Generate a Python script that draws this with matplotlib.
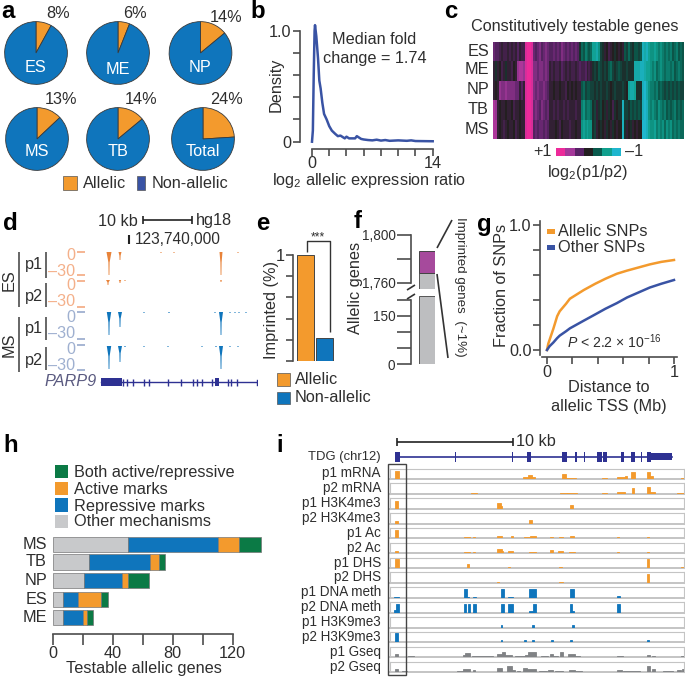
import matplotlib
matplotlib.use('Agg')
import matplotlib.pyplot as plt
from matplotlib.colors import LinearSegmentedColormap
from matplotlib.patches import Rectangle

plt.rcParams['font.family'] = ['Liberation Sans', 'DejaVu Sans']
plt.rcParams['mathtext.fontset'] = 'custom'
plt.rcParams['mathtext.rm'] = 'Liberation Sans'
plt.rcParams['mathtext.it'] = 'Liberation Sans:italic'
plt.rcParams['mathtext.default'] = 'regular'

W, H = 685, 677
TXT = '#2e2e2e'
AX = '#4d4d4d'
ORANGE = '#F39A2D'
BLUE = '#0F75BC'
NAVY = '#3953A4'
GENE = '#2E3192'
GREY = '#BDBEC0'

# panel a
pie_names = ['ES', 'ME', 'NP', 'MS', 'TB', 'Total']
pie_allelic = [8, 6, 14, 13, 14, 24]

# panel b
dens_x = [0, 0.1, 0.2, 0.3, 0.35, 0.5, 0.7, 0.85, 1, 1.2, 1.4, 1.7, 2, 2.3, 2.7, 3, 3.3, 3.6, 3.8, 4,
          4.3, 4.7, 5, 5.2, 5.4, 5.7, 6, 6.5, 7, 7.5, 8, 8.5, 9, 9.5, 10, 11, 11.5, 12, 13, 14]
dens_y = [0, 0.1, 0.6, 1.0, 1.05, 0.95, 0.75, 0.55, 0.48, 0.35, 0.25, 0.2, 0.14, 0.1, 0.07, 0.05, 0.055, 0.04, 0.03, 0.045,
          0.03, 0.03, 0.03, 0.05, 0.04, 0.025, 0.02, 0.015, 0.012, 0.018, 0.01, 0.015, 0.008, 0.01, 0.012, 0.008, 0.012, 0.006, 0.005, 0.004]

# panel c, tenths of log2(p1/p2)
heat_rows = ['ES', 'ME', 'NP', 'TB', 'MS']
heat_es = [4, 3, 3, 2, 1, 2, 2, 1, 2, 1, 2, 1, 3, 1, 2, 2, 9, 10, 10, 9, 4, 3, 4, 5,
           3, 4, 5, 4, 3, 3, 4, 3, 4, 3, 5, 4, 3, 4, 3, 4, 3, 4, 3, -1, -4, -3, -5, -4,
           -3, -4, -7, -7, -8, -6, -2, -1, 1, 0, 2, 1, 0, -1, 0, 1, 0, 1, -3, -2, -4, -2, -1, -3,
           -3, -2, -3, -9, -8, -9, -7, -6, -6, -7, -6, -5, -6, -5, -4, -5, -4, -5, -3, -4, -5, -3, -4, -3]
heat_me = [1, -1, 1, 0, 2, 1, -1, 1, 1, 2, 0, 1, 6, 7, 7, 6, 9, 10, 10, 9, 5, 5, 4, 5,
           5, 4, 5, 4, 1, 2, 1, 2, 2, 1, 3, 2, 1, 2, 1, 2, 2, 1, 2, 3, 2, 2, 3, 1,
           2, 1, -1, -2, -1, -3, -2, -1, -2, -1, -3, -4, -2, -1, -2, -3, -2, -1, -1, -2, -1, -1, -1, -8,
           -8, -8, -9, -9, -8, -7, -7, -6, -5, -6, -4, -5, -6, -5, -4, -5, -5, -4, -5, -3, -4, -5, -4, -3]
heat_np = [1, 0, 1, 6, 5, 5, 6, 5, 5, 5, 5, 4, 4, 1, 3, 1, 9, 10, 10, 9, 5, 4, 5, 4,
           4, 5, 4, 3, 1, 1, 0, 1, 1, 0, 1, 1, 2, 0, 1, 0, 1, 0, 1, 1, -3, -4, -2, -3,
           -3, -2, -2, -1, -2, -1, -2, -1, -1, -2, -1, 0, -1, -2, -1, -1, -1, -2, -1, 0, -7, -8, -8, -7,
           -1, -1, -1, -9, -10, -8, -6, -5, -5, -4, -5, -3, -4, -3, -2, -3, -2, -3, -2, -3, -2, -3, -2, -2]
heat_tb = [7, 6, 1, 0, 1, 1, 0, 1, 1, 0, 2, 1, 1, 0, 1, 1, 9, 10, 10, 9, 4, 5, 4, 3,
           5, 4, 3, 4, 1, 1, 2, 1, 2, 1, 1, 2, 1, 2, 1, 1, 1, 2, 1, 1, -5, -6, -4, -5,
           -5, -4, -1, -2, 1, -1, -2, 0, -1, 1, -1, 0, 2, -1, 0, -1, -1, -9, -2, -2, -1, -3, -2, -3,
           -2, -3, -2, -9, -10, -9, -6, -5, -6, -5, -4, -6, -5, -4, -5, -3, -4, -3, -4, -5, -3, -4, -3, -4]
heat_ms = [7, 7, 1, 0, 1, 2, 1, 0, 1, 1, 0, 2, 1, 0, 1, 1, 9, 10, 10, 9, 3, 4, 3, 4,
           4, 3, 4, 3, 1, 1, 1, 0, 1, 2, 0, 1, 1, 1, 2, 1, 1, 0, 1, 1, -6, -7, -6, -7,
           -6, -6, -1, -2, 1, 0, -1, 0, 1, -1, 0, 1, -1, 0, 1, 0, 0, -9, -1, 1, 0, -1, 1, 0,
           1, 0, 0, -10, -10, -9, -7, -6, -6, -7, -5, -6, -5, -6, -4, -6, -5, -6, -4, -5, -4, -5, -4, -4]
cbar_vals = [10, 6.6, 3.3, 0, -3.3, -6.6, -10]

# panel d, positions along the locus
es_p1 = [(109, 2.5, 23), (120, 1.5, 8), (221, 1.5, 23), (161, .5, 1), (174, .5, 1), (238, .5, 1)]
es_p2 = [(108, 2, 5), (120, 1.2, 3), (125, .6, 1), (221, .8, 2)]
ms_p1 = [(109, 2.2, 23), (120, 2, 15), (221, 2, 23), (144, .5, 1), (169, .8, 1), (215, .5, 1),
         (230, .5, 1), (235, .5, 1), (239, .5, 1), (246, .5, 1)]
ms_p2 = [(109, 2.2, 23), (120, 2, 16), (125, .8, 1), (144, .5, 1), (168, .5, 1), (202, .5, 1),
         (216, .8, 1), (221, 2, 23), (230, .5, 1), (238, .5, 1)]
parp9_thick = [(101, 122), (214.5, 219)]
parp9_ticks = [123.5, 127, 133, 144, 148.5, 167.5, 180.5, 192.5, 196.5, 201.5, 211.5, 227.5, 230.5, 236.5]

# panel e
imprinted_names = ['Allelic', 'Non-allelic']
imprinted_vals = [1.0, 0.22]

# panel f
f_other_low = 212
f_other_high = 1768
f_imprinted = 1786.5

# panel g
g_x = [0, 0.01, 0.02, 0.05, 0.08, 0.1, 0.15, 0.18, 0.29, 0.38, 0.46, 0.55, 0.63, 0.72, 0.81, 0.9, 1]
g_allelic = [0, 0.05, 0.08, 0.17, 0.27, 0.31, 0.37, 0.41, 0.48, 0.53, 0.57, 0.61, 0.635, 0.66, 0.685, 0.705, 0.72]
g_other = [0, 0.015, 0.03, 0.06, 0.095, 0.115, 0.15, 0.173, 0.235, 0.285, 0.33, 0.375, 0.42, 0.46, 0.50, 0.53, 0.56]

# panel h
h_names = ['MS', 'TB', 'NP', 'ES', 'ME']
h_other = [50, 24, 21, 7, 7]
h_repressive = [60, 41, 25, 10, 13]
h_active = [14, 6, 4, 15, 3]
h_both = [15, 4, 14, 5, 4]
h_labels = ['Both active/repressive', 'Active marks', 'Repressive marks', 'Other mechanisms']

# panel i, (start, end, height) along the locus
tdg_exons = [(376, 390), (556, 558), (726, 728), (771, 783), (876, 890), (915, 922), (942, 944), (982, 996),
             (1000, 1012), (1053, 1063), (1083, 1095), (1113, 1115), (1131, 1143)]
tdg_utr = (1143, 1205)
p1_mrna = [(376, 388, .75), (760, 775, .15), (775, 785, .4), (785, 795, .2), (876, 888, .5), (888, 918, .1),
           (997, 1010, .08), (1040, 1065, .2), (1065, 1070, .3), (1084, 1094, .7), (1130, 1140, .65),
           (1140, 1150, .25), (1232, 1242, .08)]
p2_mrna = [(602, 622, .07), (870, 890, .07), (890, 922, .1), (997, 1010, .08), (1040, 1065, .2), (1085, 1093, .6),
           (1130, 1140, .65), (1140, 1155, .2), (1220, 1242, .08)]
p1_k4 = [(376, 385, .75), (682, 692, .55), (692, 697, .3), (900, 908, .35)]
p2_k4 = [(376, 384, .2), (777, 785, .3)]
p1_ac = [(376, 384, .8), (583, 600, .1), (608, 616, .1), (682, 697, .25), (722, 728, .25), (762, 780, .1),
         (780, 798, .2), (840, 848, .1), (868, 878, .15), (900, 912, .2), (1042, 1048, .15), (1131, 1137, .15),
         (1232, 1242, .07)]
p2_ac = [(376, 384, .25), (583, 600, .1), (608, 616, .1), (682, 695, .4), (695, 700, .2), (715, 728, .2),
         (778, 798, .12), (840, 848, .35), (865, 878, .25), (898, 914, .1), (1042, 1048, .15), (1131, 1137, .15)]
p1_dhs = [(376, 386, .85), (590, 598, .4), (714, 720, .1), (868, 875, .1), (1130, 1137, .85), (1232, 1240, .1)]
p2_dhs = [(682, 688, .12), (868, 878, .12), (1130, 1137, .85)]
p1_meth = [(373, 386, .1), (582, 590, .85), (590, 597, .1), (608, 617, .1), (692, 702, .85), (714, 728, .1),
           (778, 798, .85), (900, 912, .85), (1042, 1050, .15)]
p2_meth = [(373, 378, .3), (378, 386, .85), (582, 588, .85), (595, 600, .85), (608, 617, .85), (692, 702, .85),
           (714, 728, .85), (778, 790, .2), (790, 798, .85), (900, 905, .85), (905, 911, .15), (1042, 1050, .85)]
p1_k9 = [(692, 697, .2), (787, 793, .2), (905, 911, .2)]
p2_k9 = [(376, 384, .85), (692, 697, .2), (762, 768, .2), (787, 793, .2), (842, 848, .2), (900, 906, .2),
         (1132, 1138, .2)]
p1_gseq = [(376, 385, .35), (415, 433, .1), (510, 520, .06), (530, 570, .06), (580, 585, .25), (585, 600, .4),
           (605, 670, .1), (680, 696, .35), (696, 705, .5), (705, 725, .2), (735, 765, .1), (765, 775, .2),
           (775, 798, .5), (812, 835, .1), (840, 850, .3), (850, 865, .08), (870, 878, .45), (895, 915, .3),
           (915, 930, .08), (940, 985, .05), (1010, 1040, .05), (1040, 1060, .08), (1080, 1100, .05),
           (1130, 1140, .25), (1145, 1155, .1), (1180, 1205, .05), (1232, 1242, .1)]
p2_gseq = [(376, 385, .3), (395, 410, .08), (417, 423, .05), (440, 445, .05), (458, 462, .05), (520, 555, .05),
           (560, 578, .08), (580, 600, .3), (608, 615, .2), (630, 675, .05), (680, 697, .4), (712, 725, .6),
           (725, 735, .2), (740, 750, .1), (760, 770, .4), (770, 798, .25), (808, 830, .06), (835, 850, .2),
           (855, 878, .12), (898, 915, .2), (915, 935, .08), (940, 985, .04), (1040, 1055, .2), (1060, 1110, .06),
           (1130, 1140, .55), (1145, 1155, .3), (1180, 1210, .06), (1220, 1232, .2), (1235, 1242, .25)]
track_names = ['p1 mRNA', 'p2 mRNA', 'p1 H3K4me3', 'p2 H3K4me3', 'p1 Ac', 'p2 Ac', 'p1 DHS', 'p2 DHS',
               'p1 DNA meth', 'p2 DNA meth', 'p1 H3K9me3', 'p2 H3K9me3', 'p1 Gseq', 'p2 Gseq']
track_data = [p1_mrna, p2_mrna, p1_k4, p2_k4, p1_ac, p2_ac, p1_dhs, p2_dhs,
              p1_meth, p2_meth, p1_k9, p2_k9, p1_gseq, p2_gseq]
track_cols = [ORANGE] * 8 + [BLUE] * 4 + ['#808285'] * 2

fig = plt.figure(figsize=(W / 100, H / 100), dpi=100, facecolor='white')


def px_axes(x0, y0, x1, y1):
    return fig.add_axes([x0 / W, 1 - y1 / H, (x1 - x0) / W, (y1 - y0) / H])


# everything in pixel coordinates goes on this one
top = fig.add_axes([0, 0, 1, 1], zorder=20)
top.set_xlim(0, W)
top.set_ylim(H, 0)
top.axis('off')
top.patch.set_alpha(0)


def txt(x, y, s, px=16.2, ha='center', color=TXT, **kw):
    top.text(x, y, s, fontsize=px * 0.72, ha=ha, va='center', color=color, **kw)


def seg(xs, ys, color=AX, lw=1.2):
    top.plot(xs, ys, color=color, lw=lw, solid_capstyle='butt')


def box(x0, y0, x1, y1, color, ec='none', lw=0.5):
    top.add_patch(Rectangle((x0, y0), x1 - x0, y1 - y0, fc=color, ec=ec, lw=lw))


def style(ax, keep=('left', 'bottom')):
    for s in ax.spines:
        ax.spines[s].set_visible(s in keep)
        ax.spines[s].set_color(AX)
        ax.spines[s].set_linewidth(1.2)
    ax.patch.set_alpha(0)
    ax.tick_params(color=AX, width=1.2, length=5, labelsize=16.2 * 0.72, labelcolor=TXT, pad=1)


for lab, x, y in [('a', 8, 12), ('b', 258, 11), ('c', 451, 12), ('d', 10, 224), ('e', 263, 223), ('f', 358, 222),
                  ('g', 484, 224), ('h', 11, 445), ('i', 280, 445)]:
    txt(x, y, lab, px=24, color='black', weight='bold')

# a
pie_cx = [36, 118, 200.5, 37, 118, 203]
pie_cy = [53, 53, 53, 139, 139, 139]
pie_lab_y = [68, 69, 68, 151, 151, 151]
pct_x = [58, 135, 226, 61, 141, 227]
pct_y = [14, 14, 17, 100, 100, 100]
for i, name in enumerate(pie_names):
    r = 32
    ax = px_axes(pie_cx[i] - r, pie_cy[i] - r, pie_cx[i] + r, pie_cy[i] + r)
    ax.pie([pie_allelic[i], 100 - pie_allelic[i]], colors=[ORANGE, BLUE], startangle=90, counterclock=False,
           radius=1, wedgeprops={'edgecolor': '#3a3a3a', 'linewidth': 0.6})
    ax.set_xlim(-1.02, 1.02)
    ax.set_ylim(-1.02, 1.02)
    txt(pie_cx[i], pie_lab_y[i], name, color='white')
    txt(pct_x[i], pct_y[i], '%d%%' % pie_allelic[i])
box(63.5, 176, 77, 190, ORANGE, ec='#555555')
txt(83, 183, 'Allelic', ha='left')
box(137, 176, 145, 190, NAVY, ec='#555555')
txt(152, 183, 'Non-allelic', ha='left')

# b
ax = px_axes(312, 30.7, 432.7, 141.7)
style(ax)
ax.plot(dens_x, dens_y, color=NAVY, lw=1.8, clip_on=False)
ax.set_xlim(0, 14)
ax.set_ylim(0, 1)
ax.spines['left'].set_position(('outward', 9))
ax.spines['bottom'].set_position(('outward', 5))
ax.set_xticks(range(0, 15, 2))
ax.set_xticklabels(['0', '', '', '', '', '', '', '14'])
ax.set_yticks([0, .2, .4, .6, .8, 1])
ax.set_yticklabels(['0', '', '', '', '', '1.0'])
ax.tick_params(axis='x', pad=0)
txt(276, 85, 'Density', rotation=90)
txt(374, 39, 'Median fold')
txt(375, 59, 'change = 1.74')
txt(369, 180, 'log$_2$ allelic expression ratio')

# c
heat_cmap = LinearSegmentedColormap.from_list('p1p2', [(0, '#1FB6CE'), (.17, '#10A08E'), (.33, '#0A5C4E'),
                                                       (.5, '#231F20'), (.67, '#5A2468'), (.83, '#A5389A'),
                                                       (1, '#ED2A9A')])
ax = px_axes(493, 42, 684, 139)
ax.imshow([heat_es, heat_me, heat_np, heat_tb, heat_ms], cmap=heat_cmap, vmin=-10, vmax=10, aspect='auto',
          interpolation='nearest')
ax.axis('off')
for name, y in zip(heat_rows, [51, 70, 89, 110, 129]):
    txt(489, y, name, ha='right')
txt(575, 27, 'Constitutively testable genes')
ax = px_axes(556, 148, 621, 156)
ax.imshow([cbar_vals], cmap=heat_cmap, vmin=-10, vmax=10, aspect='auto', interpolation='nearest')
ax.axis('off')
txt(552, 152, '+1', ha='right')
txt(625, 152, '\u20131', ha='left')
txt(588, 172, 'log$_2$(p1/p2)')

# d
txt(138, 221, '10 kb', ha='right')
seg([143, 192], [220, 220], color='#222222')
seg([143, 143], [216, 224], color='#222222')
seg([192, 192], [216, 224], color='#222222')
txt(196, 221, 'hg18', ha='left')
seg([129, 129], [235, 244], color='#222222', lw=1.5)
txt(135, 240, '123,740,000', px=15.5, ha='left')
seg([19, 19], [252, 307])
seg([19, 19], [317, 372])
txt(9, 280, 'ES', rotation=90)
txt(9, 345, 'MS', rotation=90)
for y in [264, 296, 328, 360]:
    txt(34, y, 'p1' if y in (264, 328) else 'p2')
for y0, y1 in [(252, 278), (283, 307), (317, 340), (347, 370)]:
    seg([46, 46], [y0, y1])
SALMON = '#F4B08A'
PALE = '#9FB0D0'
for y, s, c in [(256, '0', SALMON), (271, '\u201330', SALMON), (286, '0', SALMON), (301, '\u201330', SALMON),
                (317, '0', PALE), (333, '\u201330', PALE), (350, '0', PALE), (365, '\u201330', PALE)]:
    txt(75, y, s, ha='right', color=c)
for y, c in [(252, SALMON), (275, SALMON), (281, SALMON), (307, SALMON), (312, PALE), (339, PALE), (345, PALE), (370, PALE)]:
    seg([77, 85], [y, y], color=c, lw=1.3)
for peaks, y0, c in [(es_p1, 252, '#E8833A'), (es_p2, 280, '#E8833A'), (ms_p1, 312, BLUE), (ms_p2, 346, BLUE)]:
    ax = px_axes(100, y0, 250, y0 + 24)
    ax.axis('off')
    ax.set_xlim(100, 250)
    ax.set_ylim(24, 0)
    for pos, wid, dep in peaks:
        ax.fill([pos - wid, pos + wid, pos + .6, pos + .4, pos - .4, pos - .6],
                [0, 0, dep * .45, dep, dep, dep * .45], color=c, lw=0)
ax = px_axes(100, 374, 258, 390)
ax.axis('off')
ax.set_xlim(100, 258)
ax.set_ylim(-8, 8)
ax.plot([101, 257], [0, 0], color=GENE, lw=1)
ax.plot([257, 257], [-2.5, 2.5], color=GENE, lw=1)
for a, b in parp9_thick:
    ax.fill_between([a, b], -4, 4, color=GENE, lw=0)
ax.vlines(parp9_ticks, -3.5, 3.5, color=GENE, lw=1)
txt(97, 382, 'PARP9', ha='right', style='italic', color='#5a5a80')

# e
ax = px_axes(296, 255, 340, 361)
style(ax)
ax.bar([0, 1], imprinted_vals, width=0.88, color=[ORANGE, BLUE], edgecolor='#444444', linewidth=0.7)
ax.set_xlim(-0.48, 1.82)
ax.set_ylim(0, 1)
ax.spines['left'].set_position(('outward', 2))
ax.spines['bottom'].set_visible(False)
ax.set_xticks([])
ax.set_yticks([0, .2, .4, .6, .8, 1])
ax.set_yticklabels(['', '', '', '', '', '1'])
txt(272, 310, 'Imprinted (%)', rotation=90)
seg([307, 307, 330, 330], [252, 241, 241, 332], color='#333333', lw=1)
txt(318, 237, '***', px=12)
box(277, 373, 290, 386, ORANGE, ec='#555555')
box(277, 392, 290, 404, BLUE, ec='#555555')
txt(295, 380, imprinted_names[0], ha='left')
txt(295, 398, imprinted_names[1], ha='left')

# f, broken axis
ax = px_axes(419, 235, 435, 289)
style(ax, keep=('left',))
ax.bar([0], [f_other_high - 1755], bottom=1755, width=1, color=GREY, edgecolor='#555555', linewidth=0.7)
ax.bar([0], [f_imprinted - f_other_high], bottom=f_other_high, width=1, color='#A64A9C', edgecolor='#444444', linewidth=0.7)
ax.set_xlim(-.5, .5)
ax.set_ylim(1755, 1800)
ax.spines['left'].set_position(('outward', 6))
ax.spines['left'].set_bounds(1760, 1800)
ax.set_xticks([])
ax.set_yticks([1760, 1780, 1800])
ax.set_yticklabels(['1,760', '', '1,800'], fontsize=13.5 * 0.72)
ax.tick_params(axis='y', length=10)
ax = px_axes(419, 296, 435, 364)
style(ax, keep=('left',))
ax.bar([0], [f_other_low], width=1, color=GREY, edgecolor='#555555', linewidth=0.7)
ax.set_xlim(-.5, .5)
ax.set_ylim(0, f_other_low)
ax.spines['left'].set_position(('outward', 6))
ax.spines['left'].set_bounds(0, 200)
ax.set_xticks([])
ax.set_yticks([0, 50, 100, 150, 200])
ax.set_yticklabels(['0', '', '', '150', ''], fontsize=13.5 * 0.72)
ax.tick_params(axis='y', length=10)
seg([407, 415], [290, 285], color='#333333')
seg([407, 415], [299, 294], color='#333333')
txt(356, 288, 'Allelic genes', rotation=90)
seg([437, 452], [248, 220], color='#333333')
seg([437, 448], [274, 358], color='#333333')
txt(460, 287, 'Imprinted genes  (~1%)', px=13.4, rotation=270)

# g
ax = px_axes(547, 225, 674, 350)
style(ax)
ax.plot(g_x, g_allelic, color=ORANGE, lw=1.8, clip_on=False)
ax.plot(g_x, g_other, color=NAVY, lw=1.8, clip_on=False)
ax.set_xlim(0, 1)
ax.set_ylim(0, 1)
ax.spines['left'].set_position(('outward', 5))
ax.spines['bottom'].set_position(('outward', 5))
ax.spines['left'].set_bounds(-.04, 1.03)
ax.spines['bottom'].set_bounds(-.04, 1.02)
ax.set_xticks([0, .2, .4, .6, .8, 1])
ax.set_xticklabels(['0', '', '', '', '', '1'])
ax.set_yticks([0, .2, .4, .6, .8, 1])
ax.set_yticklabels(['0.0', '', '', '', '', '1.0'])
txt(502, 285, 'Fraction of SNPs', rotation=90)
txt(609, 388, 'Distance to')
txt(609, 407, 'allelic TSS (Mb)')
box(547, 229, 555, 234, ORANGE)
box(547, 245, 555, 250, NAVY)
txt(558, 232, 'Allelic SNPs', ha='left')
txt(558, 248, 'Other SNPs', ha='left')
txt(567, 342, '$\\mathit{P}$ < 2.2 \u00d7 10$^{-16}$', px=14, ha='left')

# h
ax = px_axes(52.7, 535, 262, 634)
style(ax, keep=('bottom',))
rows = [544.5, 562, 580.5, 599.5, 617.5]
ys = [634 - r for r in rows]
ax.set_ylim(0, 99)
ax.set_xlim(0, 139.5)
left = [0] * 5
for vals, c in zip([h_other, h_repressive, h_active, h_both], ['#C8C9CB', BLUE, ORANGE, '#0B7A45']):
    ax.barh(ys, vals, left=left, height=15.5, color=c, edgecolor='#777777', linewidth=0.5)
    left = [a + b for a, b in zip(left, vals)]
ax.spines['bottom'].set_bounds(0, 120)
ax.set_yticks([])
ax.set_xticks(range(0, 121, 20))
ax.set_xticklabels(['0', '', '40', '', '80', '', '120'])
ax.tick_params(axis='x', length=8)
for name, y in zip(h_names, rows):
    txt(47, y, name, ha='right')
txt(144, 669, 'Testable allelic genes')
for lab, c, y0, y1, yt in zip(h_labels, ['#0B7A45', ORANGE, BLUE, '#C8C9CB'], [465, 482, 498, 515], [478, 495, 512, 528],
                              [472, 489, 506, 522]):
    box(55, y0, 68, y1, c)
    txt(74, yt, lab, ha='left')

# i
seg([397, 513], [442, 442], color='#222222')
seg([397, 397], [438, 446], color='#222222')
seg([513, 513], [438, 446], color='#222222')
txt(516, 442, '10 kb', ha='left')
txt(381, 457, 'TDG (chr12)', px=13, ha='right')
ax = px_axes(390, 450, 684, 464)
ax.axis('off')
ax.set_xlim(360, 1242)
ax.set_ylim(-7, 7)
ax.plot([380, 1205], [0, 0], color=GENE, lw=1.2)
for a, b in tdg_exons:
    ax.fill_between([a, b], -5, 5, color=GENE, lw=0)
ax.fill_between(tdg_utr, -3.5, 3.5, color=GENE, lw=0)
for i, name in enumerate(track_names):
    y1 = 479 + 14.85 * i
    ax = px_axes(390, y1 - 10.5, 684, y1)
    for s in ax.spines:
        ax.spines[s].set_color('#C4C4C4')
        ax.spines[s].set_linewidth(0.8)
    ax.spines['bottom'].set_linewidth(1.4)
    ax.set_xlim(360, 1242)
    ax.set_ylim(0, 1)
    ax.set_xticks([])
    ax.set_yticks([])
    starts = [t[0] for t in track_data[i]]
    widths = [t[1] - t[0] for t in track_data[i]]
    heights = [t[2] for t in track_data[i]]
    ax.bar(starts, heights, width=widths, align='edge', color=track_cols[i], edgecolor=track_cols[i], lw=0.6, zorder=3)
    txt(381, y1 - 5.5, name, px=13.5, ha='right')
top.add_patch(Rectangle((388, 464), 18, 211, fc='none', ec='#444444', lw=1))

fig.savefig('out.png', dpi=100)
